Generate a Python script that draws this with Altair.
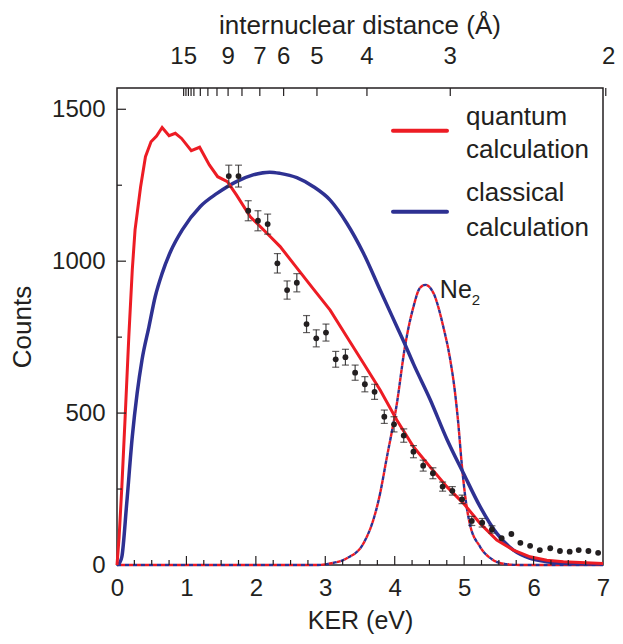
import altair as alt
import pandas as pd

# ---------------- data ----------------
# quantum calculation (red solid)
q_x = [0.0, 0.03, 0.07, 0.12, 0.17, 0.22, 0.26, 0.34, 0.41, 0.49, 0.57, 0.65, 0.75, 0.84, 0.93,
       1.07, 1.19, 1.33, 1.45, 1.59, 1.72, 1.92, 2.16, 2.35, 2.59, 2.83, 3.07, 3.31, 3.55, 3.79,
       4.03, 4.27, 4.51, 4.75, 4.99, 5.23, 5.47, 5.71, 5.95, 6.19, 6.43, 6.67, 7.0]
q_y = [0, 90, 258, 500, 751, 971, 1103, 1245, 1344, 1393, 1412, 1440, 1413, 1421, 1404,
       1364, 1375, 1317, 1278, 1262, 1218, 1146, 1092, 1048, 978, 908, 839, 751, 664, 576,
       477, 389, 323, 258, 203, 137, 82, 49, 27, 16, 11, 8, 5]

# classical calculation (blue solid)
c_x = [0.0, 0.04, 0.07, 0.14, 0.22, 0.29, 0.36, 0.46, 0.55, 0.65, 0.77, 0.94, 1.20, 1.44, 1.72,
       1.96, 2.20, 2.35, 2.59, 2.83, 3.07, 3.31, 3.55, 3.79, 4.03, 4.15, 4.27, 4.51, 4.75, 4.99,
       5.23, 5.47, 5.71, 5.95, 6.19, 6.48, 7.0]
c_y = [0, 8, 27, 203, 422, 565, 675, 784, 883, 960, 1031, 1103, 1180, 1223, 1262,
       1284, 1293, 1289, 1275, 1245, 1201, 1125, 1026, 905, 785, 725, 662, 545, 415, 302,
       192, 104, 49, 22, 11, 5, 3]

# Ne2 (dashed, red and blue identical)
n_x = [0.0, 2.9, 3.07, 3.31, 3.55, 3.79, 3.88, 4.03, 4.15, 4.27, 4.36, 4.44, 4.56, 4.70, 4.80,
       4.87, 4.92, 4.96, 5.01, 5.08, 5.23, 5.42, 5.6, 5.8, 7.0]
n_y = [0, 0, 5, 22, 71, 236, 346, 530, 722, 850, 911, 922, 894, 784, 675,
       565, 455, 346, 236, 137, 60, 16, 3, 0, 0]

# measured points with error bars
d_x = [1.61, 1.75, 1.89, 2.03, 2.17, 2.31, 2.45, 2.59, 2.73, 2.87, 3.01, 3.15, 3.29, 3.43,
       3.57, 3.71, 3.85, 3.99, 4.13, 4.27, 4.41, 4.55, 4.69, 4.83, 4.97, 5.11, 5.26, 5.40,
       5.54, 5.68, 5.81, 5.95, 6.09, 6.24, 6.38, 6.52, 6.65, 6.79, 6.93]
d_y = [1280, 1280, 1166, 1133, 1122, 993, 905, 929, 793, 746, 765, 677, 684, 633,
       595, 570, 488, 463, 426, 373, 327, 302, 258, 244, 216, 145, 139, 117,
       88, 102, 73, 63, 49, 55, 46, 44, 49, 46, 40]
d_err = [36, 36, 33, 33, 33, 32, 30, 30, 28, 28, 28, 26, 26, 25,
         25, 25, 22, 25, 22, 20, 18, 18, 15, 14, 14, 15, 14, 12,
         0, 0, 0, 0, 0, 0, 0, 0, 0, 0, 0]

# axis ticks
x_labels = [0, 1, 2, 3, 4, 5, 6, 7]
x_major = [1, 2, 3, 4, 5, 6]
x_minor = [0.25, 0.5, 0.75, 1.25, 1.5, 1.75, 2.25, 2.5, 2.75, 3.25, 3.5, 3.75,
           4.25, 4.5, 4.75, 5.25, 5.5, 5.75, 6.25, 6.5, 6.75]
y_labels = [0, 500, 1000, 1500]
y_major = [500, 1000, 1500]
y_minor = [250, 750, 1250]
# top axis: internuclear distance R (Angstrom); KER = 14.4 / R
r_ticks = [15, 14.5, 14, 13.5, 13, 12, 11, 10, 9, 8, 7, 6, 5, 4, 3]
r_labels = [15, 9, 7, 6, 5, 4, 3]
# the "2" mark sits just outside the frame in the picture
r2_tick_ker = 7.04
r2_label_ker = 7.08

legend_names = ["quantum calculation", "classical calculation"]

# ---------------- styling ----------------
RED = "#ED1C24"
BLUE = "#2E3192"
INK = "#231F20"
FONT = "Liberation Sans"
W, H = 486, 477

q_df = pd.DataFrame({"x": q_x, "y": q_y})
c_df = pd.DataFrame({"x": c_x, "y": c_y})
n_df = pd.DataFrame({"x": n_x, "y": n_y})
d_df = pd.DataFrame({"x": d_x, "y": d_y, "err": d_err})
d_df["lo"] = d_df["y"] - d_df["err"]
d_df["hi"] = d_df["y"] + d_df["err"]
e_df = d_df[d_df["err"] > 0]

xs = alt.Scale(domain=[0, 7], nice=False, zero=False)
ys = alt.Scale(domain=[0, 1570], nice=False)

x_axis = alt.Axis(title="KER (eV)", values=x_labels, ticks=False, domain=False, grid=False,
                  labelFontSize=24, titleFontSize=25, labelPadding=11, titlePadding=8,
                  labelFlush=False, format="d", labelColor=INK, titleColor=INK,
                  titleFontWeight="normal", labelFont=FONT, titleFont=FONT)
y_axis = alt.Axis(title="Counts", values=y_labels, ticks=False, domain=False, grid=False,
                  labelFontSize=24, titleFontSize=26, labelPadding=12, titlePadding=16,
                  labelFlush=False, format="d", labelColor=INK, titleColor=INK,
                  titleFontWeight="normal", labelFont=FONT, titleFont=FONT)


def X(f):
    return alt.X(f, type="quantitative", scale=xs, axis=x_axis)


def Y(f):
    return alt.Y(f, type="quantitative", scale=ys, axis=y_axis)


# curves
ne_blue = alt.Chart(n_df).mark_line(color=BLUE, strokeWidth=2.4, strokeDash=[4, 4],
                                    interpolate="monotone").encode(x=X("x"), y=Y("y"))
ne_red = alt.Chart(n_df).mark_line(color=RED, strokeWidth=2.4, strokeDash=[4, 4],
                                   strokeDashOffset=4, interpolate="monotone").encode(
    x=X("x"), y=Y("y"))
classical = alt.Chart(c_df).mark_line(color=BLUE, strokeWidth=3.5,
                                      interpolate="monotone").encode(x=X("x"), y=Y("y"))
quantum = alt.Chart(q_df).mark_line(color=RED, strokeWidth=3).encode(x=X("x"), y=Y("y"))

# error bars and points
ebar = alt.Chart(e_df).mark_rule(color="#444", strokeWidth=1.2).encode(
    x=X("x"), y=Y("lo"), y2="hi")
cap_lo = alt.Chart(e_df).mark_tick(color=INK, orient="horizontal", size=7, thickness=1.2).encode(
    x=X("x"), y=Y("lo"))
cap_hi = alt.Chart(e_df).mark_tick(color=INK, orient="horizontal", size=7, thickness=1.2).encode(
    x=X("x"), y=Y("hi"))
pts = alt.Chart(d_df).mark_circle(color=INK, size=34, opacity=1).encode(x=X("x"), y=Y("y"))


# inward ticks
def vticks(vals, length):
    return alt.Chart(pd.DataFrame({"v": vals})).mark_rule(color=INK, strokeWidth=1.2).encode(
        x=X("v"), y=alt.value(H), y2=alt.value(H - length))


def hticks(vals, length):
    return alt.Chart(pd.DataFrame({"v": vals})).mark_rule(color=INK, strokeWidth=1.2).encode(
        y=Y("v"), x=alt.value(0), x2=alt.value(length))


top_df = pd.DataFrame({"ker": [14.4 / r for r in r_ticks] + [r2_tick_ker]})
top_ticks = alt.Chart(top_df).mark_rule(color=INK, strokeWidth=1.2).encode(
    x=X("ker"), y=alt.value(0), y2=alt.value(8))
lab_df = pd.DataFrame({"ker": [14.4 / r for r in r_labels] + [r2_label_ker],
                       "t": [str(r) for r in r_labels] + ["2"]})
top_labels = alt.Chart(lab_df).mark_text(fontSize=24, font=FONT, color=INK, baseline="middle",
                                         align="center").encode(
    x=X("ker"), y=alt.value(-31), text="t:N")

one = pd.DataFrame({"k": [0]})
top_title = alt.Chart(one).mark_text(
    fontSize=26, font=FONT, color=INK, baseline="middle", align="center").encode(
    x=alt.value(W / 2), y=alt.value(-62), text=alt.value("internuclear distance (Å)"))

# Ne2 annotation
ne_lab = alt.Chart(pd.DataFrame({"x": [4.65], "y": [905], "t": ["Ne"]})).mark_text(
    fontSize=25, font=FONT, color=INK, align="left", baseline="middle").encode(
    x=X("x"), y=Y("y"), text="t:N")
ne_sub = alt.Chart(pd.DataFrame({"x": [5.11], "y": [872], "t": ["2"]})).mark_text(
    fontSize=15, font=FONT, color=INK, align="left", baseline="middle").encode(
    x=X("x"), y=Y("y"), text="t:N")


# legend
def leg_line(color, py):
    return alt.Chart(one).mark_rule(color=color, strokeWidth=4, strokeCap="round").encode(
        x=alt.value(276), x2=alt.value(330), y=alt.value(py))


def leg_text(txt, py):
    return alt.Chart(one).mark_text(fontSize=26, font=FONT, color=INK, align="left",
                                    baseline="middle").encode(
        x=alt.value(349), y=alt.value(py), text=alt.value(txt))


q_words = legend_names[0].split(" ")
c_words = legend_names[1].split(" ")
legend_layers = [
    leg_line(RED, 42.7), leg_text(q_words[0], 28.7), leg_text(q_words[1], 62),
    leg_line(BLUE, 123.7), leg_text(c_words[0], 105), leg_text(c_words[1], 140),
]

chart = alt.layer(
    ne_blue, ne_red, classical, quantum,
    ebar, cap_lo, cap_hi, pts,
    vticks(x_major, 9), vticks(x_minor, 5),
    hticks(y_major, 9), hticks(y_minor, 5),
    top_ticks, top_labels, top_title,
    ne_lab, ne_sub, *legend_layers,
).properties(
    width=W, height=H,
    autosize=alt.AutoSizeParams(type="none"),
    padding={"left": 109, "top": 80, "right": 12, "bottom": 70},
).configure(font=FONT, background="white").configure_view(stroke=INK, strokeWidth=1.5)

chart.save("out.html", embed_options={"renderer": "svg", "actions": False})
